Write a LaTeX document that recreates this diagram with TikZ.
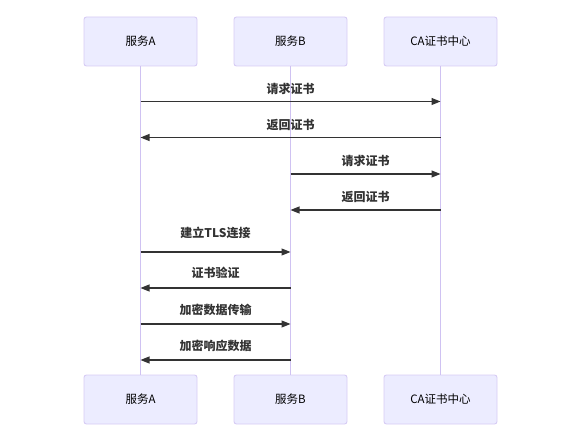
\documentclass[tikz,border=0pt]{standalone}
\usepackage{fontspec}
\setmainfont{Noto Sans CJK SC}
\newfontfamily\cjkbold[BoldFont={Noto Sans CJK SC Bold}]{Noto Sans CJK SC}
\usetikzlibrary{arrows.meta}
\definecolor{actorfill}{HTML}{ECECFF}
\definecolor{actorline}{HTML}{D6CBF4}
\definecolor{lifeline}{HTML}{CFC2F2}
\definecolor{msgcol}{HTML}{333333}
\tikzset{
  actor/.style={draw=actorline, fill=actorfill, line width=0.9pt, rounded corners=2.5pt,
    minimum width=113pt, minimum height=49pt, inner sep=0pt, font=\fontsize{11.5}{13}\selectfont, text=black},
  life/.style={draw=lifeline, line width=0.9pt},
  msg/.style={draw=msgcol, line width=1.1pt, -{Triangle[length=9pt,width=7pt]}},
  msglabel/.style={font=\fontsize{12}{14}\selectfont\bfseries, text=msgcol, inner sep=0pt}
}
\begin{document}
\begin{tikzpicture}[x=1pt,y=-1pt]
\useasboundingbox (0,0) rectangle (570,446);
% actors top
\node[actor] (At) at (140.5,41.5) {服务A};
\node[actor] (Bt) at (290.5,41.5) {服务B};
\node[actor] (Ct) at (440.5,41.5) {CA证书中心};
% actors bottom
\node[actor] (Ab) at (140.5,399.5) {服务A};
\node[actor] (Bb) at (290.5,399.5) {服务B};
\node[actor] (Cb) at (440.5,399.5) {CA证书中心};
% lifelines
\draw[life] (At.south) -- (Ab.north);
\draw[life] (Bt.south) -- (Bb.north);
\draw[life] (Ct.south) -- (Cb.north);
% message coordinates
\foreach \n/\y in {1/101.5,2/137.5,3/174,4/210,5/252,6/288,7/324,8/360}{
  \coordinate (a\n) at (140.5,\y);
  \coordinate (b\n) at (290.5,\y);
  \coordinate (c\n) at (440.5,\y);
}
% messages
\draw[msg] (a1) -- (c1);
\node[msglabel] (l1) at (290.5,89) {请求证书};
\draw[msg] (c2) -- (a2);
\node[msglabel] (l2) at (290.5,125) {返回证书};
\draw[msg] (b3) -- (c3);
\node[msglabel] (l3) at (365.5,161) {请求证书};
\draw[msg] (c4) -- (b4);
\node[msglabel] (l4) at (365.5,197) {返回证书};
\draw[msg] (a5) -- (b5);
\node[msglabel] (l5) at (215.5,233) {建立TLS连接};
\draw[msg] (b6) -- (a6);
\node[msglabel] (l6) at (215.5,272.5) {证书验证};
\draw[msg] (a7) -- (b7);
\node[msglabel] (l7) at (215.5,309.5) {加密数据传输};
\draw[msg] (b8) -- (a8);
\node[msglabel] (l8) at (215.5,346) {加密响应数据};
\end{tikzpicture}
\end{document}
